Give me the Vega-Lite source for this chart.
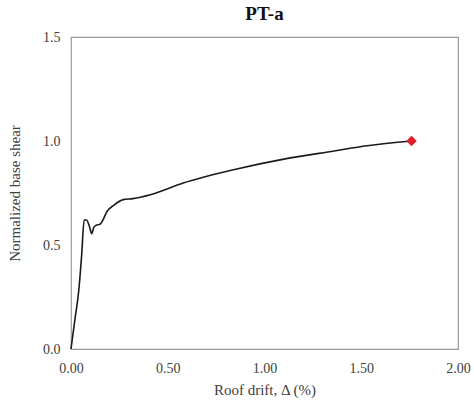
{
  "$schema": "https://vega.github.io/schema/vega-lite/v6.json",
  "autosize": "none",
  "width": 387,
  "height": 312,
  "padding": {"left": 71, "top": 37, "right": 16, "bottom": 54},
  "background": "white",
  "config": {
    "view": {"stroke": "#999999", "strokeWidth": 1.2},
    "font": "Liberation Serif",
    "axis": {"grid": false, "ticks": false, "domain": false, "labelFlush": false, "labelFont": "Liberation Serif", "titleFont": "Liberation Serif", "labelFontSize": 14, "titleFontSize": 15, "labelColor": "#404040", "titleColor": "#404040", "titleFontWeight": "normal"}
  },
  "title": {"text": "PT-a", "font": "Liberation Serif", "fontSize": 19, "fontWeight": "bold", "color": "#111111", "offset": 6},
  "datasets": {
    "curve": [
      {"drift": 0.0, "shear": 0.0},
      {"drift": 0.02, "shear": 0.14},
      {"drift": 0.04, "shear": 0.28},
      {"drift": 0.055, "shear": 0.45},
      {"drift": 0.068, "shear": 0.62},
      {"drift": 0.08, "shear": 0.62},
      {"drift": 0.095, "shear": 0.59},
      {"drift": 0.107, "shear": 0.555},
      {"drift": 0.118, "shear": 0.585},
      {"drift": 0.13, "shear": 0.595},
      {"drift": 0.15, "shear": 0.6},
      {"drift": 0.165, "shear": 0.62},
      {"drift": 0.185, "shear": 0.66},
      {"drift": 0.22, "shear": 0.69},
      {"drift": 0.27, "shear": 0.718},
      {"drift": 0.32, "shear": 0.723},
      {"drift": 0.41, "shear": 0.742},
      {"drift": 0.58, "shear": 0.798},
      {"drift": 0.84, "shear": 0.862},
      {"drift": 1.1, "shear": 0.913},
      {"drift": 1.36, "shear": 0.952},
      {"drift": 1.53, "shear": 0.977},
      {"drift": 1.76, "shear": 1.0}
    ],
    "peak": [{"drift": 1.76, "shear": 1.0}]
  },
  "layer": [
    {
      "data": {"name": "curve"},
      "mark": {"type": "line", "color": "#1a1a1a", "strokeWidth": 1.6, "interpolate": "monotone"},
      "encoding": {
        "x": {"field": "drift", "type": "quantitative", "scale": {"domain": [0, 2], "nice": false}, "axis": {"title": "Roof drift, Δ (%)", "values": [0, 0.5, 1, 1.5, 2], "format": ".2f", "labelPadding": 12, "titlePadding": 7}},
        "y": {"field": "shear", "type": "quantitative", "scale": {"domain": [0, 1.5], "nice": false}, "axis": {"title": "Normalized base shear", "values": [0, 0.5, 1, 1.5], "format": ".1f", "labelPadding": 11, "titlePadding": 20}}
      }
    },
    {
      "data": {"name": "peak"},
      "mark": {"type": "point", "shape": "diamond", "filled": true, "color": "#e0202a", "size": 110, "opacity": 1},
      "encoding": {
        "x": {"field": "drift", "type": "quantitative"},
        "y": {"field": "shear", "type": "quantitative"}
      }
    }
  ]
}
